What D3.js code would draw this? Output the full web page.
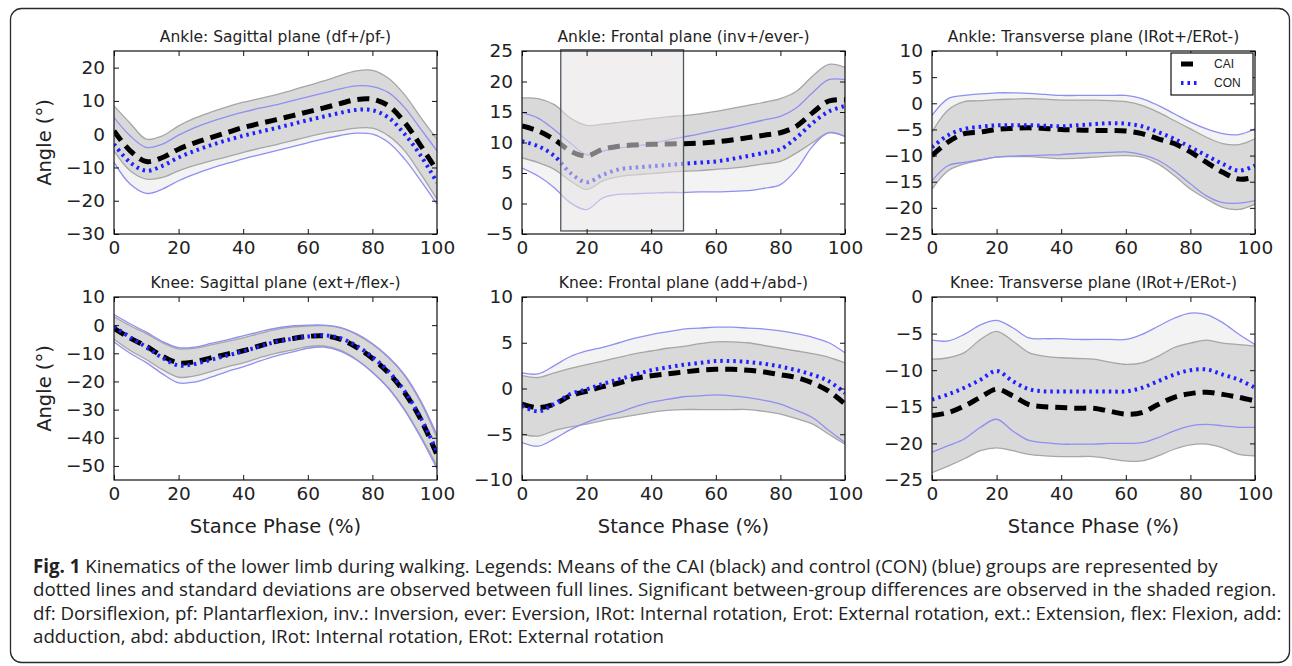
<!DOCTYPE html>
<html>
<head>
<meta charset="utf-8">
<script src="https://cdn.jsdelivr.net/npm/d3@7"></script>
<style>
  body { margin: 0; background: #fff; }
  text { fill: #222; }
</style>
</head>
<body>
<svg id="chart" width="1292" height="666"></svg>
<script>
// stance phase sample points (%)
const phase = [0, 5, 10, 15, 20, 25, 30, 35, 40, 45, 50, 55, 60, 65, 70, 75, 80, 85, 90, 95, 100];
const xTicks = [0, 20, 40, 60, 80, 100];

// Ankle sagittal (df+/pf-)
const ankSagCaiMean = [1, -5, -8.2, -7, -4.5, -2.6, -1, 0.5, 2, 3.2, 4.3, 5.5, 6.7, 7.9, 9.2, 10.4, 10.5, 8.5, 3.5, -3.5, -11];
const ankSagCaiUp   = [8.5, 3.3, -1.5, -0.5, 2.5, 4.8, 6.6, 8.2, 9.6, 10.7, 11.8, 13.2, 14.6, 16, 17.6, 19, 19.2, 16.8, 11.8, 5, -1.5];
const ankSagCaiLo   = [-5, -11, -13.5, -13, -11, -9.4, -8, -6.8, -5.5, -4.3, -3.2, -2, -0.8, 0.3, 1.1, 1.8, 1.8, -0.5, -5, -12, -19.5];
const ankSagConMean = [-3, -8.5, -11, -9.5, -7, -5, -3.3, -1.8, -0.5, 0.7, 1.8, 3, 4.2, 5.3, 6.4, 7.3, 7.2, 5, 0, -6.5, -14.5];
const ankSagConUp   = [5, -0.5, -4, -3, -0.3, 2, 3.8, 5.3, 6.6, 7.8, 8.8, 10, 11.2, 12.4, 13.6, 14.5, 14.3, 12.5, 8, 1.5, -5];
const ankSagConLo   = [-8.5, -15, -17.8, -16.5, -14, -12, -10.3, -8.8, -7.4, -6.2, -5, -3.8, -2.6, -1.4, -0.4, 0.3, 0, -2.5, -7.5, -14, -21];

// Ankle frontal (inv+/ever-)
const ankFroCaiMean = [12.7, 11.9, 10.5, 8.6, 7.8, 8.9, 9.4, 9.6, 9.7, 9.75, 9.8, 9.9, 10.1, 10.4, 10.8, 11.2, 11.6, 12.7, 14.9, 16.8, 17];
const ankFroCaiUp   = [17.3, 17.2, 16.2, 14, 12.8, 13, 13.3, 13.6, 13.9, 14.2, 14.4, 14.7, 15.1, 15.6, 16.1, 16.6, 17.2, 18.4, 20.9, 22.8, 22.3];
const ankFroCaiLo   = [7.5, 6.7, 5.6, 3.7, 2.3, 3.7, 4.4, 4.7, 4.9, 5.1, 5.3, 5.4, 5.6, 5.8, 6.1, 6.5, 6.9, 8.3, 10, 11.6, 11];
const ankFroConMean = [10.2, 9.4, 7.8, 5, 3.5, 4.7, 5.6, 5.9, 6.1, 6.3, 6.5, 6.7, 6.9, 7.3, 7.8, 8.3, 8.9, 10.8, 13.2, 15.1, 16];
const ankFroConUp   = [14.9, 14, 12.1, 9.9, 8, 8.6, 9.1, 9.4, 9.8, 10.4, 10.9, 11.4, 12, 12.5, 13.1, 13.7, 14.3, 15.7, 18.2, 20.3, 20.3];
const ankFroConLo   = [5.8, 4.5, 2.6, 0.1, -1, 0.9, 1.5, 1.6, 1.7, 1.8, 1.8, 1.9, 1.9, 2, 2.1, 2.5, 3.1, 5.6, 9.4, 11.6, 11];

// Ankle transverse (IRot+/ERot-)
const ankTraCaiMean = [-10, -7.4, -5.8, -5.5, -5, -4.8, -4.7, -4.8, -5, -5.1, -5.2, -5.2, -5.3, -5.8, -6.8, -7.7, -9.3, -11.3, -13.2, -14.5, -14.1];
const ankTraCaiUp   = [-5.5, -1.3, 0.3, 0.5, 0.7, 0.8, 0.9, 0.8, 0.6, 0.6, 0.6, 0.5, 0.3, -0.4, -1.7, -3.3, -4.9, -6.5, -7.7, -7.9, -6.8];
const ankTraCaiLo   = [-16.4, -12.9, -11.6, -10.9, -10.3, -10.2, -10.2, -10.4, -10.6, -10.5, -10.3, -10.1, -10, -10.3, -11.6, -13.8, -16.4, -18.3, -19.9, -20.3, -19.3];
const ankTraConMean = [-8.4, -6.1, -4.9, -4.5, -4.2, -4.2, -4.2, -4.3, -4.4, -4.2, -4, -3.8, -3.9, -4.4, -5.5, -6.8, -8.4, -10, -11.6, -12.9, -11.9];
const ankTraConUp   = [-2.3, 0.9, 1.5, 1.8, 2, 2, 1.9, 1.7, 1.5, 1.5, 1.5, 1.5, 1.5, 0.9, -0.4, -2, -3.6, -4.9, -5.8, -6, -4.9];
const ankTraConLo   = [-14.8, -11.9, -11.3, -10.8, -10.3, -10.1, -10, -9.9, -9.8, -9.6, -9.5, -9.4, -9.3, -9.8, -10.9, -12.9, -15.4, -17.7, -19, -19.1, -18.6];

// Knee sagittal (ext+/flex-)
const kneSagCaiMean = [-1.1, -4.6, -7.5, -11, -13.4, -13, -11.6, -10.3, -9.1, -7.4, -5.8, -4.8, -4, -3.8, -5, -7.8, -11.8, -17, -24, -33.5, -46];
const kneSagCaiUp   = [3, -0.2, -3, -6.2, -8.4, -8.2, -7, -5.8, -4.5, -3, -1.6, -0.7, -0.3, -0.2, -1, -3.3, -6.8, -11.6, -18, -27.5, -40];
const kneSagCaiLo   = [-5, -9, -12.2, -15.8, -18.5, -18, -16.5, -14.8, -13.4, -11.6, -10, -8.9, -7.6, -7.4, -8.9, -12.1, -16.6, -22.3, -30, -39.5, -50];
const kneSagConMean = [-0.5, -4.3, -7.8, -11.6, -14.3, -13.8, -12.3, -10.8, -9.3, -7.6, -6, -4.9, -4, -3.6, -4.6, -7.3, -11.3, -16.5, -23.5, -33, -45];
const kneSagConUp   = [3.8, 0.5, -2.5, -5.8, -8, -7.8, -6.5, -5.2, -3.8, -2.4, -1.1, -0.3, 0, 0, -0.8, -3, -6.5, -11.3, -17.7, -27, -39];
const kneSagConLo   = [-6, -10, -13.3, -17.3, -20.5, -20.2, -18.5, -16.5, -14.8, -12.8, -11, -9.6, -8.2, -7.8, -9.2, -12.3, -16.8, -22.5, -30.3, -40, -51];

// Knee frontal (add+/abd-)
const kneFroCaiMean = [-1.7, -2.1, -1.7, -0.8, -0.3, 0.2, 0.6, 1.1, 1.4, 1.6, 1.8, 2, 2.1, 2.1, 2, 1.8, 1.5, 1.2, 0.6, -0.3, -1.7];
const kneFroCaiUp   = [1.4, 1.2, 1.7, 2.2, 2.6, 3, 3.4, 3.8, 4.1, 4.4, 4.6, 4.9, 5.1, 5.1, 5, 4.7, 4.4, 4.1, 3.8, 3.4, 2.8];
const kneFroCaiLo   = [-5, -5.2, -4.6, -4.2, -3.9, -3.5, -3.2, -2.9, -2.6, -2.4, -2.3, -2.3, -2.3, -2.3, -2.3, -2.5, -2.8, -3.3, -3.9, -5, -6.1];
const kneFroConMean = [-1.9, -2.5, -1.7, -0.6, -0.1, 0.5, 1, 1.5, 2, 2.3, 2.6, 2.8, 3, 3, 2.9, 2.7, 2.4, 2, 1.5, 0.8, -0.5];
const kneFroConUp   = [1.7, 1.6, 2.5, 3.5, 4.1, 4.5, 5, 5.5, 5.9, 6.2, 6.5, 6.6, 6.7, 6.7, 6.6, 6.5, 6.3, 6, 5.6, 5, 3.9];
const kneFroConLo   = [-5.9, -6.3, -5.5, -4.5, -3.7, -3.1, -2.6, -2, -1.5, -1.2, -0.9, -0.8, -0.7, -0.8, -1, -1.3, -1.7, -2.4, -3.2, -4.6, -5.9];

// Knee transverse (IRot+/ERot-)
const kneTraCaiMean = [-16.2, -15.8, -14.9, -13.7, -12.6, -13.5, -14.7, -15, -15.1, -15.2, -15.2, -15.6, -16, -15.8, -14.7, -13.7, -13.2, -13, -13.3, -13.7, -14.2];
const kneTraCaiUp   = [-8.5, -8.3, -7.6, -5.8, -4.7, -6, -7.6, -8.1, -8.3, -8.4, -8.5, -8.9, -9.2, -9, -8.1, -6.9, -6.3, -5.9, -6.3, -6.5, -6.7];
const kneTraCaiLo   = [-24, -23.1, -22.1, -21, -20.6, -21, -21.5, -21.7, -21.8, -21.8, -21.8, -22.1, -22.4, -22.4, -21.7, -20.8, -20.2, -20.1, -20.6, -21.5, -21.7];
const kneTraConMean = [-14, -13.3, -12.4, -11.3, -10.1, -11.5, -12.6, -12.9, -12.9, -12.9, -12.9, -12.9, -12.9, -12.4, -11.5, -10.6, -10, -9.9, -10.6, -11.3, -12.4];
const kneTraConUp   = [-5.9, -6, -5.1, -3.8, -3.2, -4.2, -5.6, -5.7, -5.7, -5.8, -5.8, -5.8, -5.8, -5.1, -4, -2.9, -2.2, -2.4, -3.5, -5.1, -6.5];
const kneTraConLo   = [-21.2, -20.3, -19.4, -17.8, -16.7, -18.3, -19.6, -19.9, -20.1, -20.1, -20.1, -20, -20, -19.9, -19.2, -18.3, -17.6, -17.4, -17.6, -17.8, -17.8];

// significant difference region (ankle frontal), % stance
const shadeRange = [12, 50];

const captionLines = [
  "dotted lines and standard deviations are observed between full lines. Significant between-group differences are observed in the shaded region.",
  "df: Dorsiflexion, pf: Plantarflexion, inv.: Inversion, ever: Eversion, IRot: Internal rotation, Erot: External rotation, ext.: Extension, flex: Flexion, add:",
  "adduction, abd: abduction, IRot: Internal rotation, ERot: External rotation"
];

// layout
const W = 323, H = 183;
const cols = [114, 522, 932];
const rows = [51, 297];

const panels = [
  { title: "Ankle: Sagittal plane (df+/pf-)", col: 0, row: 0, yDomain: [-30, 25], yTicks: [-30, -20, -10, 0, 10, 20],
    d: [ankSagCaiMean, ankSagCaiUp, ankSagCaiLo, ankSagConMean, ankSagConUp, ankSagConLo] },
  { title: "Ankle: Frontal plane (inv+/ever-)", col: 1, row: 0, yDomain: [-5, 25], yTicks: [-5, 0, 5, 10, 15, 20, 25],
    d: [ankFroCaiMean, ankFroCaiUp, ankFroCaiLo, ankFroConMean, ankFroConUp, ankFroConLo], shade: shadeRange },
  { title: "Ankle: Transverse plane (IRot+/ERot-)", col: 2, row: 0, yDomain: [-25, 10], yTicks: [-25, -20, -15, -10, -5, 0, 5, 10],
    d: [ankTraCaiMean, ankTraCaiUp, ankTraCaiLo, ankTraConMean, ankTraConUp, ankTraConLo], legend: true },
  { title: "Knee: Sagittal plane (ext+/flex-)", col: 0, row: 1, yDomain: [-55, 10], yTicks: [-50, -40, -30, -20, -10, 0, 10],
    d: [kneSagCaiMean, kneSagCaiUp, kneSagCaiLo, kneSagConMean, kneSagConUp, kneSagConLo] },
  { title: "Knee: Frontal plane (add+/abd-)", col: 1, row: 1, yDomain: [-10, 10], yTicks: [-10, -5, 0, 5, 10],
    d: [kneFroCaiMean, kneFroCaiUp, kneFroCaiLo, kneFroConMean, kneFroConUp, kneFroConLo] },
  { title: "Knee: Transverse plane (IRot+/ERot-)", col: 2, row: 1, yDomain: [-25, 0], yTicks: [-25, -20, -15, -10, -5, 0],
    d: [kneTraCaiMean, kneTraCaiUp, kneTraCaiLo, kneTraConMean, kneTraConUp, kneTraConLo] }
];

const svg = d3.select("#chart");
const defs = svg.append("defs");
const curve = d3.curveCatmullRom.alpha(0.5);
const font = "'DejaVu Sans', sans-serif";

// outer frame
svg.append("rect")
  .attr("x", 10.5).attr("y", 8.5).attr("width", 1279).attr("height", 654).attr("rx", 11)
  .attr("fill", "none").attr("stroke", "#2a2a2a").attr("stroke-width", 1.3);

panels.forEach((p, i) => {
  const left = cols[p.col], top = rows[p.row];
  const x = d3.scaleLinear().domain([0, 100]).range([left, left + W]);
  const y = d3.scaleLinear().domain(p.yDomain).range([top + H, top]);
  const [caiMean, caiUp, caiLo, conMean, conUp, conLo] = p.d;

  defs.append("clipPath").attr("id", "clip" + i)
    .append("rect").attr("x", left).attr("y", top).attr("width", W).attr("height", H);

  const g = svg.append("g");
  const plot = g.append("g").attr("clip-path", `url(#clip${i})`);

  const band = (up, lo) => d3.area()
    .x((d, j) => x(phase[j])).y0((d, j) => y(lo[j])).y1((d, j) => y(up[j])).curve(curve);
  const line = arr => d3.line().x((d, j) => x(phase[j])).y((d, j) => y(arr[j])).curve(curve);

  // CON band (light), CAI band (gray)
  plot.append("path").datum(conUp).attr("d", band(conUp, conLo)).attr("fill", "#f3f3f3");
  plot.append("path").datum(caiUp).attr("d", band(caiUp, caiLo)).attr("fill", "#d9d9d9");

  [caiUp, caiLo].forEach(a => plot.append("path").datum(a).attr("d", line(a))
    .attr("fill", "none").attr("stroke", "#a6a6a6").attr("stroke-width", 1.3));
  [conUp, conLo].forEach(a => plot.append("path").datum(a).attr("d", line(a))
    .attr("fill", "none").attr("stroke", "#8f8ff2").attr("stroke-width", 1.3));

  plot.append("path").datum(caiMean).attr("d", line(caiMean))
    .attr("fill", "none").attr("stroke", "#000").attr("stroke-width", 5)
    .attr("stroke-dasharray", "12,7");
  plot.append("path").datum(conMean).attr("d", line(conMean))
    .attr("fill", "none").attr("stroke", "#1f1fff").attr("stroke-width", 4)
    .attr("stroke-dasharray", "2.5,4");

  if (p.shade) {
    g.append("rect")
      .attr("x", x(p.shade[0])).attr("width", x(p.shade[1]) - x(p.shade[0]))
      .attr("y", y(25.2)).attr("height", y(-4.5) - y(25.2))
      .attr("fill", "#e6e2e4").attr("fill-opacity", 0.55)
      .attr("stroke", "#4f5560").attr("stroke-width", 1.3);
  }

  // axes with inward ticks on all four sides
  const styleAxis = sel => {
    sel.select(".domain").remove();
    sel.selectAll(".tick line").attr("stroke", "#111");
    sel.selectAll("text").attr("font-family", font).attr("font-size", 18.5).attr("fill", "#222");
  };
  g.append("g").attr("transform", `translate(0,${top + H})`)
    .call(d3.axisBottom(x).tickValues(xTicks).tickSize(-5).tickPadding(7)).call(styleAxis);
  g.append("g").attr("transform", `translate(0,${top})`)
    .call(d3.axisTop(x).tickValues(xTicks).tickSize(-5).tickFormat("")).call(styleAxis);
  g.append("g").attr("transform", `translate(${left},0)`)
    .call(d3.axisLeft(y).tickValues(p.yTicks).tickSize(-5).tickPadding(9)).call(styleAxis);
  g.append("g").attr("transform", `translate(${left + W},0)`)
    .call(d3.axisRight(y).tickValues(p.yTicks).tickSize(-5).tickFormat("")).call(styleAxis);

  g.append("rect").attr("x", left).attr("y", top).attr("width", W).attr("height", H)
    .attr("fill", "none").attr("stroke", "#111").attr("stroke-width", 1.2);

  g.append("text").attr("x", left + W / 2).attr("y", top - 9)
    .attr("text-anchor", "middle").attr("font-family", font).attr("font-size", 15.5)
    .text(p.title);

  if (p.col === 0) {
    g.append("text")
      .attr("transform", `translate(44,${top + H / 2}) rotate(-90)`)
      .attr("text-anchor", "middle").attr("dy", "0.35em")
      .attr("font-family", font).attr("font-size", 19.5)
      .text("Angle (°)");
  }
  if (p.row === 1) {
    g.append("text").attr("x", left + W / 2).attr("y", top + H + 53)
      .attr("text-anchor", "middle").attr("font-family", font).attr("font-size", 19.5)
      .text("Stance Phase (%)");
  }

  if (p.legend) {
    const lg = g.append("g").attr("transform", `translate(${left + W - 84},${top + 2})`);
    lg.append("rect").attr("width", 82).attr("height", 42)
      .attr("fill", "#fff").attr("stroke", "#111").attr("stroke-width", 1.2);
    lg.append("line").attr("x1", 10).attr("x2", 22).attr("y1", 11).attr("y2", 11)
      .attr("stroke", "#000").attr("stroke-width", 5);
    lg.append("line").attr("x1", 10).attr("x2", 27).attr("y1", 30).attr("y2", 30)
      .attr("stroke", "#1f1fff").attr("stroke-width", 4).attr("stroke-dasharray", "2.5,4");
    lg.append("text").attr("x", 43).attr("y", 11).attr("dy", "0.35em")
      .attr("font-family", "'Liberation Sans Narrow', 'Liberation Sans', sans-serif").attr("font-size", 12).text("CAI");
    lg.append("text").attr("x", 43).attr("y", 30).attr("dy", "0.35em")
      .attr("font-family", "'Liberation Sans Narrow', 'Liberation Sans', sans-serif").attr("font-size", 12).text("CON");
  }
});

// caption
const cap = svg.append("g").attr("font-family", "'Open Sans', sans-serif").attr("font-size", 18.7);
const first = cap.append("text").attr("x", 33).attr("y", 573);
first.append("tspan").attr("font-weight", "bold").text("Fig. 1");
first.append("tspan").text(" Kinematics of the lower limb during walking. Legends: Means of the CAI (black) and control (CON) (blue) groups are represented by");
captionLines.forEach((t, i) => {
  cap.append("text").attr("x", 33).attr("y", 596 + i * 23.5).text(t);
});
</script>
</body>
</html>
